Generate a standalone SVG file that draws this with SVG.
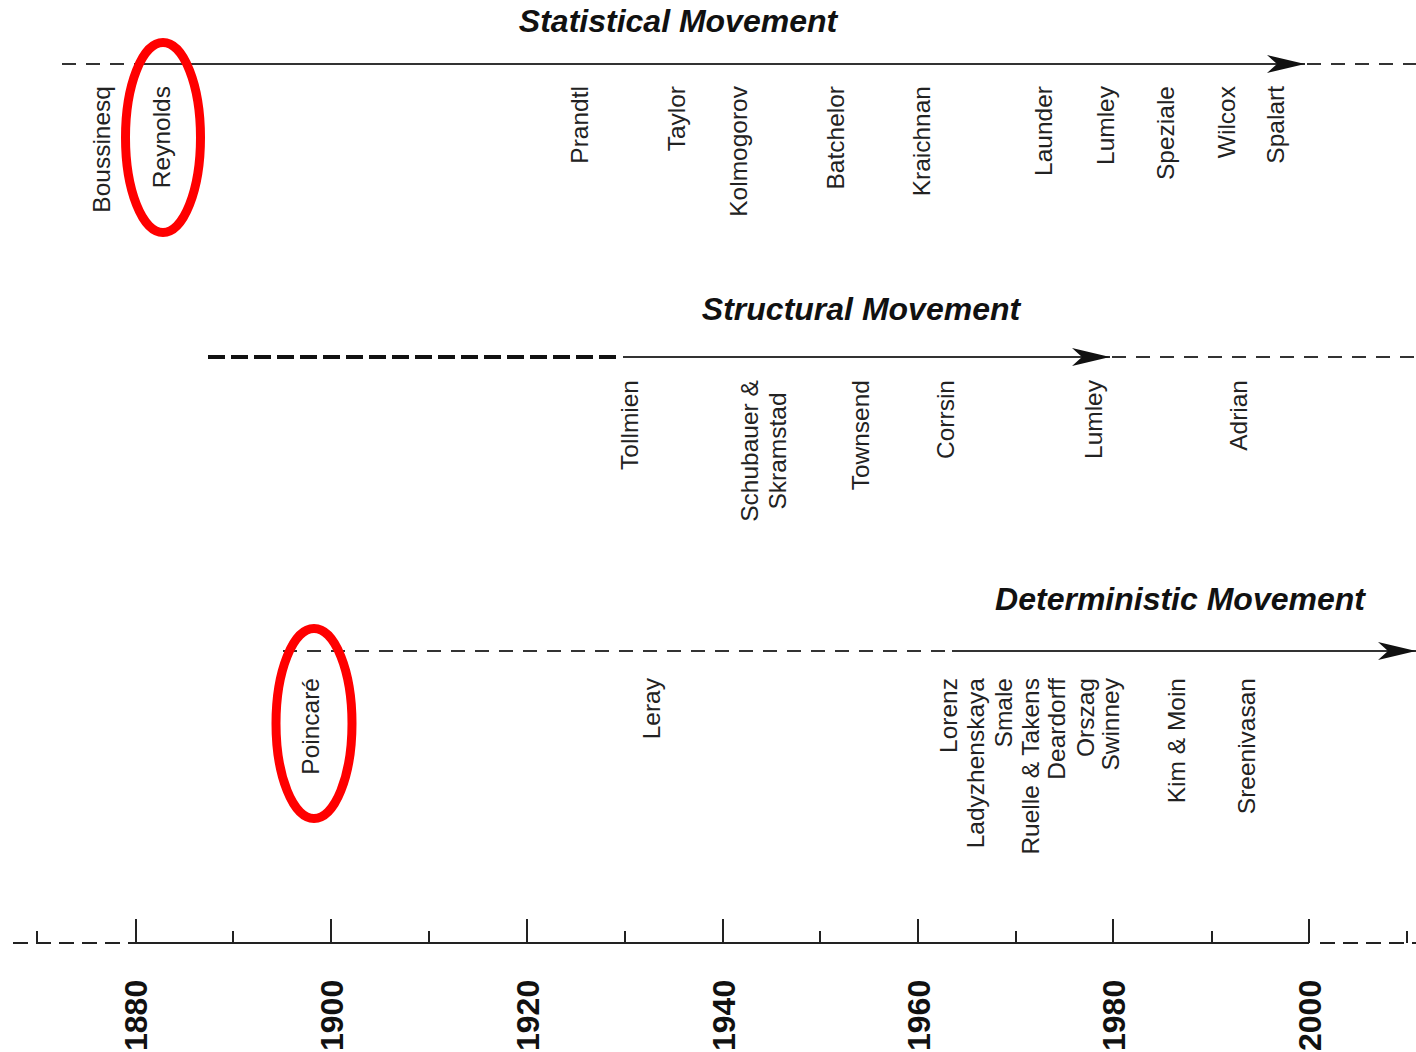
<svg xmlns="http://www.w3.org/2000/svg" width="1416" height="1052" viewBox="0 0 1416 1052">
  <style>
    .title { font-family: "Liberation Sans", Arial, sans-serif; font-size: 32px; font-weight: bold; font-style: italic; fill: #111; text-anchor: middle; }
    .name { font-family: "Liberation Sans", Arial, sans-serif; font-size: 24.5px; fill: #222; text-anchor: end; }
    .name2 { font-family: "Liberation Sans", Arial, sans-serif; font-size: 24.5px; fill: #222; text-anchor: middle; }
    .year { font-family: "Liberation Sans", Arial, sans-serif; font-size: 32px; font-weight: bold; fill: #111; text-anchor: start; }
    .solid { stroke: #333; stroke-width: 2; fill: none; }
    .dash { stroke: #333; stroke-width: 2; fill: none; stroke-dasharray: 14 10; }
    .thick { stroke: #111; stroke-width: 4; fill: none; stroke-dasharray: 17 6; }
    .axis { stroke: #222; stroke-width: 2; fill: none; }
    .axisdash { stroke: #222; stroke-width: 2; fill: none; stroke-dasharray: 15 8; }
    .ring { stroke: #ff0000; stroke-width: 9; fill: none; }
  </style>
  <defs>
    <marker id="arrow" markerUnits="userSpaceOnUse" markerWidth="40" markerHeight="20" viewBox="-39 -10 40 20" refX="0" refY="0" orient="auto">
      <path d="M0,0 L-38,-9 L-28,0 L-38,9 Z" fill="#111"/>
    </marker>
  </defs>
  <rect width="1416" height="1052" fill="#fff"/>

  <!-- movement timelines and the year axis -->
  <g id="connectors">
    <!-- statistical -->
    <line class="dash" x1="62" y1="64" x2="135" y2="64"/>
    <line class="solid" x1="135" y1="64" x2="1305" y2="64" marker-end="url(#arrow)"/>
    <line class="dash" x1="1307" y1="64" x2="1416" y2="64"/>
    <!-- structural -->
    <line class="thick" x1="208" y1="357" x2="620" y2="357"/>
    <line class="solid" x1="623" y1="357" x2="1110" y2="357" marker-end="url(#arrow)"/>
    <line class="dash" x1="1112" y1="357" x2="1416" y2="357"/>
    <!-- deterministic -->
    <line class="dash" x1="283" y1="651" x2="950" y2="651" stroke-dasharray="16 8"/>
    <line class="solid" x1="952" y1="651" x2="1416" y2="651" marker-end="url(#arrow)"/>
    <!-- axis -->
    <line class="axisdash" x1="13" y1="943" x2="135" y2="943"/>
    <line class="axis" x1="135" y1="943" x2="1309" y2="943"/>
    <line class="axisdash" x1="1320" y1="943" x2="1416" y2="943"/>
    <g class="axis">
      <line x1="37" y1="931" x2="37" y2="943"/>
      <line x1="136" y1="919" x2="136" y2="943"/>
      <line x1="233" y1="931" x2="233" y2="943"/>
      <line x1="331" y1="919" x2="331" y2="943"/>
      <line x1="429" y1="931" x2="429" y2="943"/>
      <line x1="527" y1="919" x2="527" y2="943"/>
      <line x1="625" y1="931" x2="625" y2="943"/>
      <line x1="723" y1="919" x2="723" y2="943"/>
      <line x1="820" y1="931" x2="820" y2="943"/>
      <line x1="918" y1="919" x2="918" y2="943"/>
      <line x1="1016" y1="931" x2="1016" y2="943"/>
      <line x1="1113" y1="919" x2="1113" y2="943"/>
      <line x1="1212" y1="931" x2="1212" y2="943"/>
      <line x1="1309" y1="919" x2="1309" y2="943"/>
      <line x1="1407" y1="931" x2="1407" y2="943"/>
    </g>
  </g>

  <!-- movement titles -->
  <g id="title-statistical"><text class="title" x="678" y="32">Statistical Movement</text></g>
  <g id="title-structural"><text class="title" x="861" y="320">Structural Movement</text></g>
  <g id="title-deterministic"><text class="title" x="1180" y="610">Deterministic Movement</text></g>

  <!-- statistical movement names -->
  <g id="boussinesq"><text class="name" transform="translate(110,86) rotate(-90)">Boussinesq</text></g>
  <g id="reynolds"><text class="name" transform="translate(170,86) rotate(-90)">Reynolds</text></g>
  <g id="prandtl"><text class="name" transform="translate(588,86) rotate(-90)">Prandtl</text></g>
  <g id="taylor"><text class="name" transform="translate(685,86) rotate(-90)">Taylor</text></g>
  <g id="kolmogorov"><text class="name" transform="translate(747,86) rotate(-90)">Kolmogorov</text></g>
  <g id="batchelor"><text class="name" transform="translate(844,86) rotate(-90)">Batchelor</text></g>
  <g id="kraichnan"><text class="name" transform="translate(930,86) rotate(-90)">Kraichnan</text></g>
  <g id="launder"><text class="name" transform="translate(1052,86) rotate(-90)">Launder</text></g>
  <g id="lumley-stat"><text class="name" transform="translate(1114,86) rotate(-90)">Lumley</text></g>
  <g id="speziale"><text class="name" transform="translate(1174,86) rotate(-90)">Speziale</text></g>
  <g id="wilcox"><text class="name" transform="translate(1235,86) rotate(-90)">Wilcox</text></g>
  <g id="spalart"><text class="name" transform="translate(1284,86) rotate(-90)">Spalart</text></g>

  <!-- structural movement names -->
  <g id="tollmien"><text class="name" transform="translate(638,380) rotate(-90)">Tollmien</text></g>
  <g id="schubauer-skramstad">
    <text class="name2" transform="translate(758,451) rotate(-90)">Schubauer &amp;</text>
    <text class="name2" transform="translate(786,451) rotate(-90)">Skramstad</text>
  </g>
  <g id="townsend"><text class="name" transform="translate(869,380) rotate(-90)">Townsend</text></g>
  <g id="corrsin"><text class="name" transform="translate(954,380) rotate(-90)">Corrsin</text></g>
  <g id="lumley-struct"><text class="name" transform="translate(1102,380) rotate(-90)">Lumley</text></g>
  <g id="adrian"><text class="name" transform="translate(1247,380) rotate(-90)">Adrian</text></g>

  <!-- deterministic movement names -->
  <g id="poincare"><text class="name" transform="translate(319,678) rotate(-90)">Poincaré</text></g>
  <g id="leray"><text class="name" transform="translate(660,678) rotate(-90)">Leray</text></g>
  <g id="lorenz"><text class="name" transform="translate(957,678) rotate(-90)">Lorenz</text></g>
  <g id="ladyzhenskaya"><text class="name" transform="translate(984,678) rotate(-90)">Ladyzhenskaya</text></g>
  <g id="smale"><text class="name" transform="translate(1012,678) rotate(-90)">Smale</text></g>
  <g id="ruelle-takens"><text class="name" transform="translate(1039,678) rotate(-90)">Ruelle &amp; Takens</text></g>
  <g id="deardorff"><text class="name" transform="translate(1065,678) rotate(-90)">Deardorff</text></g>
  <g id="orszag"><text class="name" transform="translate(1094,678) rotate(-90)">Orszag</text></g>
  <g id="swinney"><text class="name" transform="translate(1119,678) rotate(-90)">Swinney</text></g>
  <g id="kim-moin"><text class="name" transform="translate(1185,678) rotate(-90)">Kim &amp; Moin</text></g>
  <g id="sreenivasan"><text class="name" transform="translate(1255,678) rotate(-90)">Sreenivasan</text></g>

  <!-- year labels -->
  <g id="years">
    <text class="year" transform="translate(147,1051) rotate(-90)">1880</text>
    <text class="year" transform="translate(343,1051) rotate(-90)">1900</text>
    <text class="year" transform="translate(539,1051) rotate(-90)">1920</text>
    <text class="year" transform="translate(735,1051) rotate(-90)">1940</text>
    <text class="year" transform="translate(930,1051) rotate(-90)">1960</text>
    <text class="year" transform="translate(1125,1051) rotate(-90)">1980</text>
    <text class="year" transform="translate(1321,1051) rotate(-90)">2000</text>
  </g>

  <!-- highlight rings -->
  <g id="ring-reynolds"><ellipse class="ring" cx="163" cy="137.5" rx="37.5" ry="95"/></g>
  <g id="ring-poincare"><ellipse class="ring" cx="314" cy="723.5" rx="38" ry="95"/></g>
</svg>
